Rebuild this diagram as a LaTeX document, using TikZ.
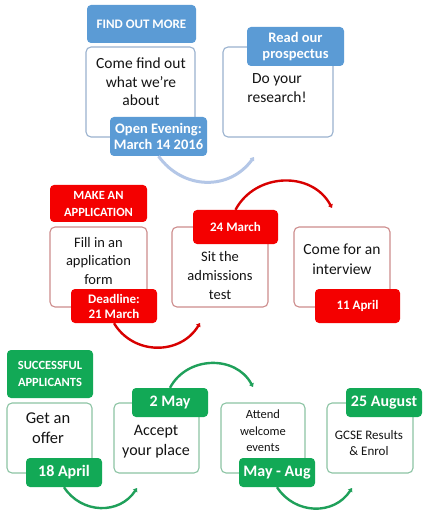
\documentclass[tikz,border=0pt]{standalone}
\usepackage{fontspec}
\setmainfont{Carlito}
\usetikzlibrary{arrows.meta}
\definecolor{blueF}{HTML}{5B9BD5}
\definecolor{blueB}{HTML}{9AB2CF}
\definecolor{blueA}{HTML}{B4C7E7}
\definecolor{redF}{HTML}{F40000}
\definecolor{redB}{HTML}{CD8C8C}
\definecolor{redA}{HTML}{D80000}
\definecolor{greenF}{HTML}{12A956}
\definecolor{greenB}{HTML}{8CC4A4}
\definecolor{greenA}{HTML}{1FA05A}
\tikzset{
  frame/.style={draw=#1, line width=1.1pt, rounded corners=5pt, fill=white, inner sep=0pt},
  tag/.style={fill=#1, rounded corners=4pt, inner sep=0pt, text=white, align=center, font=\bfseries},
  body/.style={align=center, inner sep=0pt, text=black!92},
  arcl/.style={draw=#1, line width=2.4pt, -{Triangle[length=3.5pt,width=5pt]}, looseness=1.12},
  fs/.style 2 args={font=\fontsize{#1}{#2}\selectfont},
  fsb/.style 2 args={font=\fontsize{#1}{#2}\selectfont\bfseries}
}
\begin{document}
\begin{tikzpicture}[x=1pt,y=1pt]
\useasboundingbox[fill=white] (0,0) rectangle (428,-518);
% ---------------- blue row
\node[tag=blueF, minimum width=109pt, minimum height=38pt, fsb={13}{16}] (h1) at (141.5,-24) {FIND OUT MORE};
\node[frame=blueB, minimum width=109pt, minimum height=90pt] (b1) at (140.5,-92) {};
\node[body, fs={15.5}{18.5}] (t1) at (141,-82) {Come find out\\what we’re\\about};
\node[frame=blueB, minimum width=110pt, minimum height=90pt] (b2) at (278,-92) {};
\node[body, fs={15.5}{19}] (t2) at (277,-88) {Do your\\research!};
\node[tag=blueF, minimum width=97pt, minimum height=39pt, fsb={14.5}{16}] (l1) at (158.5,-136.5) {Open Evening:\\March 14 2016};
\node[tag=blueF, minimum width=97pt, minimum height=39pt, fsb={14.5}{16}] (l2) at (295.5,-46.5) {Read our\\prospectus};
\coordinate (a1) at (254,-157);
\draw[arcl=blueA, line width=3pt] (l1.south) to[out=-54,in=-126] (a1);
% ---------------- red row
\node[tag=redF, minimum width=97pt, minimum height=37pt, fsb={12.5}{17}] (h2) at (98.5,-203.5) {MAKE AN\\APPLICATION};
\node[frame=redB, minimum width=97pt, minimum height=80pt] (b3) at (98.5,-267) {};
\node[body, fs={14.5}{18.5}] (t3) at (98.5,-261) {Fill in an\\application\\form};
\node[frame=redB, minimum width=96pt, minimum height=80pt] (b4) at (220,-267) {};
\node[body, fs={14.5}{19}] (t4) at (220,-276) {Sit the\\admissions\\test};
\node[frame=redB, minimum width=96pt, minimum height=80pt] (b5) at (342,-267) {};
\node[body, fs={15.5}{20}] (t5) at (342,-259) {Come for an\\interview};
\node[tag=redF, minimum width=86pt, minimum height=34pt, fsb={13}{15}] (l3) at (114,-306) {Deadline:\\21 March};
\node[tag=redF, minimum width=85pt, minimum height=34pt, fsb={13}{15}] (l4) at (235.5,-227) {24 March};
\node[tag=redF, minimum width=85pt, minimum height=34pt, fsb={13}{15}] (l5) at (357.5,-306) {11 April};
\coordinate (a2) at (200,-323);
\coordinate (a3) at (332,-208);
\draw[arcl=redA] (l3.south) to[out=-59,in=-121] (a2);
\draw[arcl=redA] (l4.north) to[out=62,in=118] (a3);
% ---------------- green row
\node[tag=greenF, minimum width=86pt, minimum height=48pt, fsb={12.5}{17}] (h3) at (50,-374) {SUCCESSFUL\\APPLICANTS};
\node[frame=greenB, minimum width=85pt, minimum height=70pt] (b6) at (49.5,-438) {};
\node[body, fs={16.5}{20}] (t6) at (48,-428) {Get an\\offer};
\node[frame=greenB, minimum width=85pt, minimum height=70pt] (b7) at (156.5,-438) {};
\node[body, fs={16}{20}] (t7) at (156,-442) {Accept\\your place};
\node[frame=greenB, minimum width=84pt, minimum height=70pt] (b8) at (263,-438) {};
\node[body, fs={12.5}{16.5}] (t8) at (263,-431) {Attend\\welcome\\events};
\node[frame=greenB, minimum width=86pt, minimum height=70pt] (b9) at (370,-438) {};
\node[body, fs={13}{16}] (t9) at (369,-443) {GCSE Results\\\& Enrol};
\node[tag=greenF, minimum width=76pt, minimum height=29pt, fsb={16}{18}] (l6) at (64,-472.5) {18 April};
\node[tag=greenF, minimum width=76pt, minimum height=29pt, fsb={16}{18}] (l7) at (170,-402.5) {2 May};
\node[tag=greenF, minimum width=76pt, minimum height=29pt, fsb={16}{18}] (l8) at (277,-472.5) {May - Aug};
\node[tag=greenF, minimum width=76pt, minimum height=29pt, fsb={16}{18}] (l9) at (384,-402.5) {25 August};
\coordinate (a4) at (137,-488);
\coordinate (a5) at (253,-387);
\coordinate (a6) at (352,-488);
\draw[arcl=greenA] (l6.south) to[out=-57,in=-123] (a4);
\draw[arcl=greenA] (l7.north) to[out=62,in=118] (a5);
\draw[arcl=greenA] (l8.south) to[out=-57,in=-123] (a6);
\end{tikzpicture}
\end{document}
